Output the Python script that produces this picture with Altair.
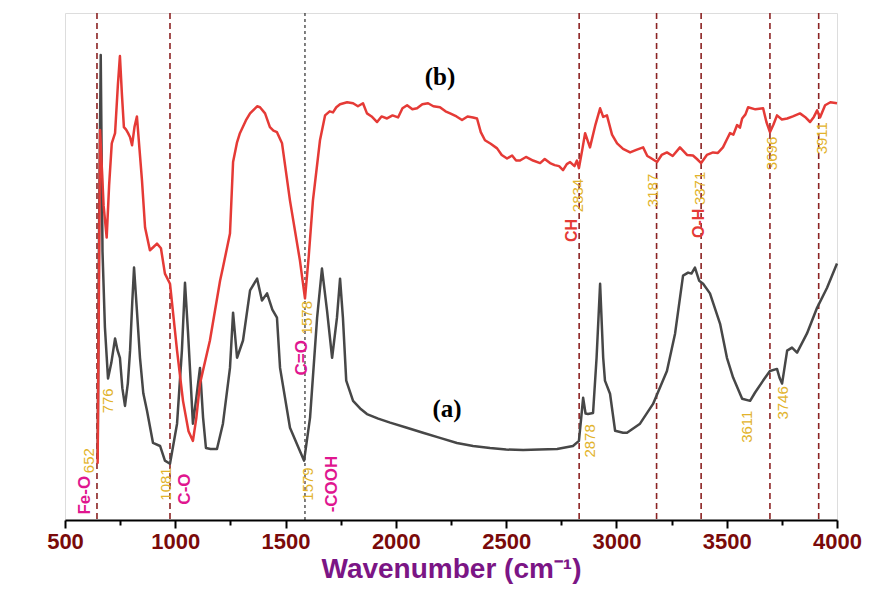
import altair as alt
import pandas as pd

# ---- curve (b): red ----
wn_b = [648, 659, 675, 689, 700, 712, 727, 740, 749, 758, 767, 777, 786, 795, 804, 815, 826, 838, 849, 863,
        885, 900, 917, 935, 953, 976, 1008, 1035, 1060, 1080, 1095, 1112, 1157, 1203, 1216, 1248, 1262, 1280,
        1293, 1320, 1339, 1371, 1384, 1407, 1429, 1445, 1461, 1484, 1520, 1565, 1588, 1605, 1624, 1656, 1679,
        1700, 1715, 1730, 1747, 1779, 1806, 1828, 1851, 1869, 1890, 1915, 1935, 1960, 1985, 2010, 2030, 2051,
        2075, 2096, 2120, 2146, 2170, 2200, 2225, 2246, 2275, 2300, 2325, 2350, 2368, 2385, 2404, 2430, 2459,
        2480, 2504, 2527, 2545, 2563, 2590, 2622, 2654, 2675, 2699, 2720, 2740, 2758, 2775, 2790, 2810, 2821,
        2830, 2845, 2858, 2880, 2905, 2926, 2940, 2957, 2980, 3003, 3030, 3062, 3090, 3121, 3140, 3152, 3170,
        3184, 3205, 3229, 3255, 3288, 3320, 3347, 3365, 3384, 3410, 3438, 3460, 3483, 3500, 3515, 3530, 3547,
        3560, 3570, 3585, 3597, 3630, 3665, 3680, 3696, 3712, 3728, 3750, 3774, 3800, 3832, 3855, 3878, 3895,
        3910, 3923, 3946, 3970, 4000]
tr_b = [11.1, 76.9, 62.0, 55.7, 66.0, 74.3, 76.3, 86.0, 91.5, 84.0, 77.5, 77.0, 76.3, 75.5, 73.9, 77.5, 79.6, 73.0, 67.0, 57.7,
        53.2, 53.8, 54.5, 53.6, 48.6, 46.6, 33.4, 23.5, 17.5, 15.6, 20.0, 26.9, 35.4, 47.2, 49.8, 56.5, 70.6, 74.5,
        76.3, 78.8, 80.2, 81.6, 81.4, 80.2, 77.5, 76.8, 76.5, 74.3, 63.0, 51.2, 43.7, 52.0, 63.0, 74.9, 79.8,
        80.6, 80.4, 81.4, 82.0, 82.4, 82.2, 81.6, 82.2, 80.2, 79.6, 78.5, 79.6, 79.2, 79.8, 79.4, 81.2, 81.8,
        81.0, 81.2, 82.0, 82.2, 81.6, 81.4, 80.6, 80.2, 79.6, 78.9, 79.6, 79.4, 79.2, 76.5, 74.9, 74.2, 73.3,
        72.0, 71.3, 71.9, 70.9, 70.9, 71.6, 70.9, 70.4, 71.2, 70.4, 70.0, 69.8, 69.0, 70.2, 70.6, 69.8, 70.9,
        69.4, 73.0, 76.3, 73.5, 78.0, 81.2, 79.5, 79.8, 76.0, 74.3, 73.2, 72.5, 73.0, 73.5, 71.8, 71.5, 71.0,
        70.6, 72.0, 72.5, 71.8, 73.5, 72.0, 71.9, 71.2, 70.4, 72.0, 72.5, 72.4, 73.5, 75.0, 76.3, 76.0, 77.9,
        77.4, 79.2, 80.0, 81.4, 81.0, 81.2, 78.5, 76.5, 78.0, 79.8, 79.0, 79.2, 79.6, 80.2, 79.5, 78.5, 79.5,
        80.8, 79.4, 81.8, 82.4, 82.2]

# ---- curve (a): dark grey ----
wn_a = [648, 655, 662, 670, 681, 695, 710, 727, 738, 749, 760, 772, 785, 795, 805, 813, 825, 840, 855, 872,
        899, 931, 953, 976, 1008, 1030, 1044, 1058, 1080, 1095, 1112, 1126, 1139, 1160, 1189, 1216, 1248, 1262,
        1280, 1307, 1339, 1371, 1393, 1416, 1440, 1461, 1475, 1520, 1565, 1584, 1611, 1643, 1665, 1688, 1711,
        1733, 1747, 1760, 1775, 1806, 1838, 1869, 1920, 1974, 2050, 2123, 2200, 2277, 2350, 2427, 2500, 2577,
        2650, 2731, 2803, 2830, 2840, 2849, 2860, 2871, 2894, 2910, 2926, 2940, 2948, 2971, 2994, 3030, 3048,
        3107, 3166, 3229, 3266, 3302, 3325, 3340, 3356, 3375, 3393, 3424, 3470, 3501, 3529, 3570, 3606, 3628,
        3665, 3696, 3728, 3740, 3751, 3774, 3796, 3819, 3864, 3910, 3955, 4000]
tr_a = [12.0, 60.0, 91.7, 53.0, 38.0, 27.9, 31.0, 35.8, 33.5, 32.0, 26.0, 22.5, 27.0, 33.4, 43.0, 49.8, 42.0, 32.0, 25.0, 21.5,
        15.2, 14.6, 11.7, 11.1, 19.0, 33.4, 46.8, 36.8, 19.0, 24.0, 30.0, 20.2, 14.2, 14.0, 14.0, 19.0, 30.0, 40.9,
        32.0, 35.4, 45.3, 47.6, 43.3, 44.7, 41.5, 39.9, 30.0, 18.2, 13.6, 11.7, 20.2, 39.9, 49.6, 41.3, 32.0,
        39.9, 47.6, 39.9, 27.5, 23.5, 22.0, 20.9, 20.0, 19.2, 18.2, 17.2, 16.2, 15.2, 14.6, 14.2, 13.9, 13.8,
        13.9, 14.0, 14.6, 15.6, 20.0, 24.1, 21.0, 20.9, 21.1, 32.0, 46.6, 32.0, 27.5, 24.9, 17.6, 17.2, 17.2,
        19.0, 22.9, 29.4, 36.8, 48.2, 48.8, 48.6, 49.8, 47.2, 46.6, 44.7, 38.7, 32.0, 28.1, 23.9, 23.5, 25.1,
        27.5, 29.4, 29.8, 28.0, 26.9, 33.4, 34.0, 33.0, 36.8, 41.9, 45.8, 50.6]

# ---- reference lines ----
band_lines_red = [645, 976, 2831, 3182, 3384, 3696, 3917]
band_lines_black = [1588]

# ---- axis ticks ----
major_ticks = [500, 1000, 1500, 2000, 2500, 3000, 3500, 4000]
minor_ticks = [750, 1250, 1750, 2250, 2750, 3250, 3750]

# ---- annotations ----
num_text = ["652", "776", "1081", "1578", "1579", "2834", "2878", "3187", "3371", "3696", "3911", "3611", "3746"]
num_x = [609, 695, 958, 1597, 1602, 2826, 2880, 3166, 3379, 3705, 3932, 3592, 3755]
num_y = [11.7, 23.5, 7.1, 39.9, 7.1, 64.0, 15.6, 65.0, 65.4, 72.3, 75.3, 18.4, 23.1]

grp_text = ["Fe-O", "C-O", "C=O", "-COOH"]
grp_x = [591, 1044, 1575, 1711]
grp_y = [4.9, 6.1, 32.0, 7.1]

red_text = ["CH", "O-H"]
red_x = [2799, 3375]
red_y = [57.1, 58.5]

curve_text = ["(a)", "(b)"]
curve_x = [2232, 2200]
curve_y = [21.9, 87.4]

df = pd.concat([
    pd.DataFrame({"wn": wn_a, "t": tr_a, "s": "a"}),
    pd.DataFrame({"wn": wn_b, "t": tr_b, "s": "b"}),
])

FONT = "Liberation Sans"
xscale = alt.Scale(domain=[500, 4000], nice=False, zero=False)
yscale = alt.Scale(domain=[0, 100], nice=False, zero=False)

x_axis = alt.Axis(
    orient="bottom", values=major_ticks, format="d",
    tickSize=8, tickColor="black", tickWidth=2, domainColor="black", domainWidth=2,
    labelFont=FONT, labelFontSize=22, labelFontWeight="bold", labelColor="#7a0a0a",
    labelPadding=3, labelOverlap=False, labelFlush=False, grid=False,
    title="Wavenumber (cm⁻¹)", titleFont=FONT, titleFontSize=28, titleFontWeight="bold",
    titleColor="#7b1585", titlePadding=3,
)
x_minor_axis = alt.Axis(
    orient="bottom", values=minor_ticks, labels=False, domain=False, grid=False,
    tickSize=5, tickColor="black", tickWidth=2, title=None,
)
y_axis = alt.Axis(
    labels=False, ticks=False, grid=False, domainColor="black", domainWidth=2,
    title="Transmittance (%)", titleFont=FONT, titleFontSize=23, titleFontWeight="bold",
    titleColor="#1a1ae6", titlePadding=26,
)

lines = alt.Chart(df).mark_line(strokeWidth=2.5, strokeJoin="round").encode(
    x=alt.X("wn:Q", scale=xscale, axis=x_axis),
    y=alt.Y("t:Q", scale=yscale, axis=y_axis),
    color=alt.Color("s:N", scale=alt.Scale(domain=["a", "b"], range=["#474747", "#e53a36"]), legend=None),
    order=alt.Order("wn:Q"),
)

rules_red = alt.Chart(pd.DataFrame({"wn": band_lines_red})).mark_rule(
    color="#8b2323", strokeDash=[6, 4], strokeWidth=1.6
).encode(x=alt.X("wn:Q", scale=xscale, axis=None))
rules_black = alt.Chart(pd.DataFrame({"wn": band_lines_black})).mark_rule(
    color="black", strokeDash=[3, 3], strokeWidth=1
).encode(x=alt.X("wn:Q", scale=xscale, axis=x_minor_axis))

def text_layer(xs, ys, texts, color, size, weight, angle=270, font=FONT):
    d = pd.DataFrame({"wn": xs, "t": ys, "lab": texts})
    return alt.Chart(d).mark_text(
        angle=angle, color=color, fontSize=size, fontWeight=weight, font=font,
        align="center", baseline="middle"
    ).encode(
        x=alt.X("wn:Q", scale=xscale, axis=None),
        y=alt.Y("t:Q", scale=yscale, axis=None),
        text="lab:N",
    )

nums = text_layer(num_x, num_y, num_text, "#e2b32b", 15, "normal")
grps = text_layer(grp_x, grp_y, grp_text, "#e0168f", 17, "bold")
reds = text_layer(red_x, red_y, red_text, "#e53a36", 16, "bold")
curves = text_layer(curve_x, curve_y, curve_text, "black", 25, "bold", angle=0, font="Liberation Serif")

chart = alt.layer(rules_red, rules_black, lines, nums, grps, reds, curves).resolve_axis(
    x="independent"
).properties(
    width=772, height=507,
    autosize=alt.AutoSizeParams(type="none"),
    padding={"left": 65, "top": 13, "right": 33, "bottom": 72},
).configure_view(stroke="black", strokeWidth=2).configure(background="white")

chart.save("out.html", embed_options={"renderer": "svg", "actions": False})
